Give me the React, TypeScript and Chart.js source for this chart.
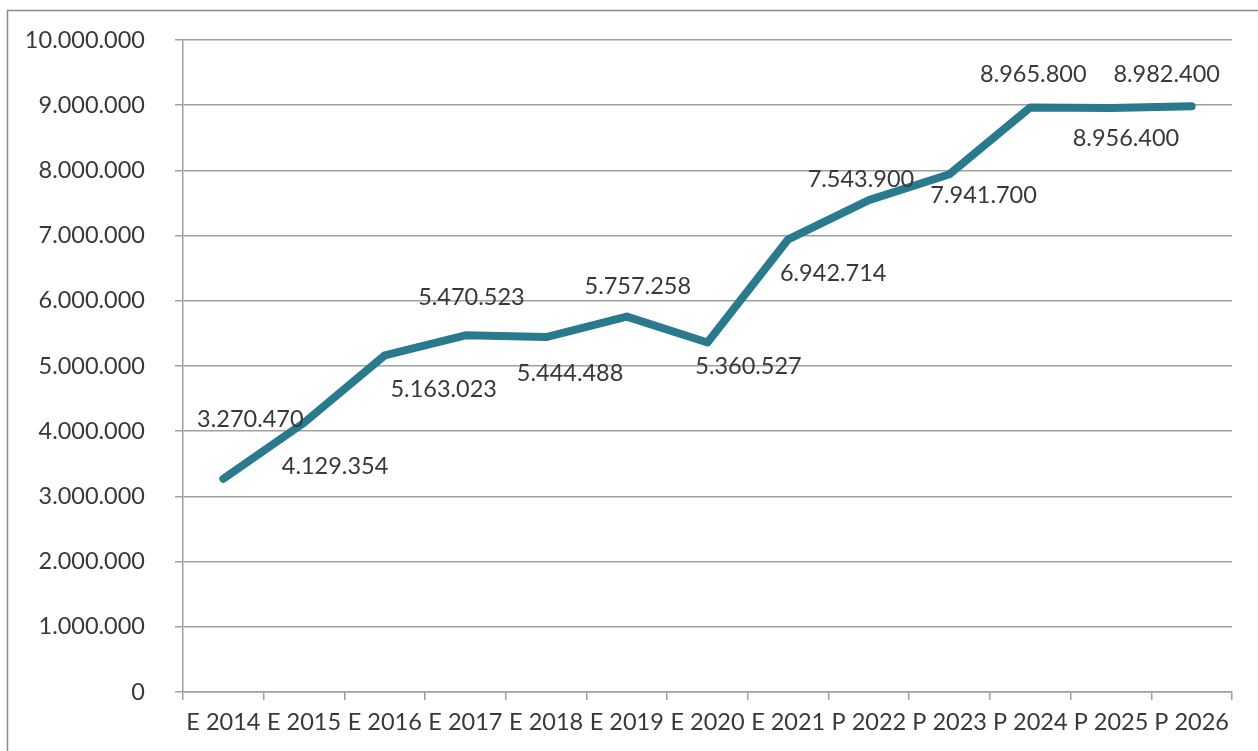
import React, { useEffect, useRef } from "react";
import { Chart, registerables } from "chart.js";

Chart.register(...registerables);

const categories = [
  "E 2014", "E 2015", "E 2016", "E 2017", "E 2018", "E 2019", "E 2020",
  "E 2021", "P 2022", "P 2023", "P 2024", "P 2025", "P 2026",
];

const values = [
  3270470, 4129354, 5163023, 5470523, 5444488, 5757258, 5360527,
  6942714, 7543900, 7941700, 8965800, 8956400, 8982400,
];

const yMin = 0;
const yMax = 10000000;
const yStep = 1000000;

// label placement relative to each point (pixels)
const labelDx = [27, 31, 59, 6, 24, 11, 41, 45, -8, 34, 3, 15, -25];
const labelDy = [-59, 44, 34, -38, 36, -30, 24, 34, -21, 21, -33, 30, -32];

const FONT = "Lato, 'Open Sans', sans-serif";
const TEXT = "#383838";
const LINE = "#2A7A8E";
const GRID = "#A0A0A0";
const SIZE = 23.5;

function fmt(v: number): string {
  return String(Math.round(v)).replace(/\B(?=(\d{3})+(?!\d))/g, ".");
}

const labelPlugin = {
  id: "pointLabels",
  afterDatasetsDraw(chart: any) {
    const ctx = chart.ctx;
    const meta = chart.getDatasetMeta(0);
    ctx.save();
    ctx.font = `${SIZE}px ${FONT}`;
    ctx.fillStyle = TEXT;
    ctx.textAlign = "center";
    ctx.textBaseline = "middle";
    meta.data.forEach((pt: any, i: number) => {
      ctx.fillText(fmt(values[i]), pt.x + labelDx[i], pt.y + labelDy[i]);
    });
    ctx.restore();
  },
};

const borderPlugin = {
  id: "outerBorder",
  beforeDraw(chart: any) {
    const ctx = chart.ctx;
    ctx.save();
    ctx.fillStyle = "#ffffff";
    ctx.fillRect(0, 0, chart.width, chart.height);
    ctx.strokeStyle = "#8C8C8C";
    ctx.lineWidth = 1.5;
    ctx.strokeRect(7.5, 10.5, chart.width + 20, chart.height + 20);
    ctx.restore();
  },
};

export default function App() {
  const ref = useRef<HTMLCanvasElement | null>(null);
  useEffect(() => {
    if (!ref.current) return;
    const chart = new Chart(ref.current, {
      type: "line",
      data: {
        labels: categories,
        datasets: [
          {
            data: values,
            borderColor: LINE,
            borderWidth: 8,
            borderCapStyle: "round",
            borderJoinStyle: "round",
            pointRadius: 0,
            pointHoverRadius: 0,
            tension: 0,
            fill: false,
          },
        ],
      },
      options: {
        animation: false,
        responsive: false,
        maintainAspectRatio: false,
        devicePixelRatio: 1,
        layout: { padding: { top: 40, right: 26, left: 0, bottom: 0 } },
        plugins: {
          legend: { display: false },
          tooltip: { enabled: false },
        },
        scales: {
          x: {
            offset: true,
            grid: {
              offset: true,
              drawOnChartArea: false,
              drawTicks: true,
              tickLength: 8,
              color: GRID,
              lineWidth: 1.5,
            },
            border: { display: true, color: GRID, width: 1.5 },
            ticks: {
              color: TEXT,
              font: { family: FONT, size: SIZE },
              padding: 8,
              maxRotation: 0,
              autoSkip: false,
            },
            afterFit(scale: any) {
              scale.height = 59;
              scale.paddingLeft = 0;
              scale.paddingRight = 0;
            },
          },
          y: {
            min: yMin,
            max: yMax,
            grid: {
              color: GRID,
              lineWidth: 1.5,
              drawTicks: true,
              tickLength: 8,
            },
            border: { display: true, color: GRID, width: 1.5 },
            ticks: {
              stepSize: yStep,
              color: TEXT,
              font: { family: FONT, size: SIZE },
              padding: 30,
              callback: (v: any) => fmt(Number(v)),
            },
            afterFit(scale: any) {
              scale.width = 183;
              scale.paddingTop = 0;
              scale.paddingBottom = 0;
            },
          },
        },
      },
      plugins: [borderPlugin, labelPlugin],
    });
    return () => chart.destroy();
  }, []);
  return (
    <div style={{ position: "absolute", left: 0, top: 0, width: 1258, height: 751 }}>
      <canvas ref={ref} width={1258} height={751} style={{ display: "block" }} />
    </div>
  );
}
